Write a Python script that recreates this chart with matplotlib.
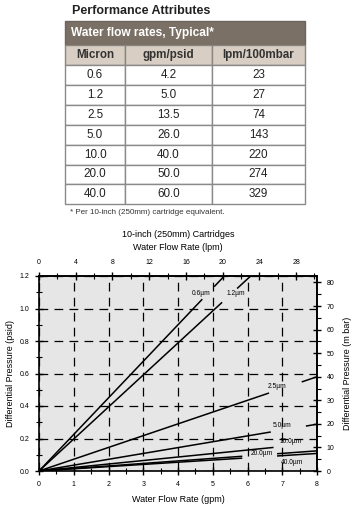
import matplotlib
matplotlib.use("Agg")
import matplotlib.pyplot as plt
from matplotlib.patches import Rectangle
from matplotlib.ticker import MultipleLocator, FixedLocator

plt.rcParams["font.family"] = ["Liberation Sans", "DejaVu Sans"]

# table data
col_heads = ["Micron", "gpm/psid", "lpm/100mbar"]
micron = ["0.6", "1.2", "2.5", "5.0", "10.0", "20.0", "40.0"]
gpm_psid = ["4.2", "5.0", "13.5", "26.0", "40.0", "50.0", "60.0"]
lpm_mbar = ["23", "27", "74", "143", "220", "274", "329"]

# curves: slope in psid per gpm
curve_labels = ["0.6µm", "1.2µm", "2.5µm", "5.0µm", "10.0µm", "20.0µm", "40.0µm"]
slopes = [0.225, 0.197, 0.0725, 0.036, 0.0215, 0.0155, 0.0135]
# drawn segments (gpm ranges), gaps are where the labels sit
segments = [
    [(0, 4.7), (5.04, 5.33)],
    [(0, 5.27), (5.7, 6.09)],
    [(0, 6.62), (7.56, 8.0)],
    [(0, 6.67), (7.68, 8.0)],
    [(0, 6.75)],
    [(0, 5.85), (6.85, 8.0)],
    [(0, 5.85), (6.85, 8.0)],
]
label_pos = [(4.67, 1.09), (5.67, 1.09), (6.85, 0.52), (7.0, 0.28),
             (7.25, 0.18), (6.42, 0.105), (7.28, 0.05)]

lpm_ticks = [0, 4, 8, 12, 16, 20, 24, 28]
lpm_minor = [2, 6, 10, 14, 18, 22, 26, 30]
mbar_ticks = [0, 10, 20, 30, 40, 50, 60, 70, 80]
mbar_minor = [5, 15, 25, 35, 45, 55, 65, 75]

W, H = 352, 505
fig = plt.figure(figsize=(W / 100, H / 100), dpi=100)

# ---- table (pixel coordinates) ----
tb = fig.add_axes([0, 0, 1, 1])
tb.set_xlim(0, W); tb.set_ylim(H, 0); tb.axis("off")
xe = [65, 125, 212, 305]
hdr_top, sub_top, data_top, rh = 21, 45, 65, 19.9
tb.text(72, 11, "Performance Attributes", fontsize=9, fontweight="bold",
        color="#222222", va="center")
tb.add_patch(Rectangle((xe[0], hdr_top), xe[3] - xe[0], sub_top - hdr_top,
                       fc="#7b7066", ec="#6e655c", lw=1))
tb.text(71, 33, "Water flow rates, Typical*", fontsize=8.6, fontweight="bold",
        color="white", va="center")
for i, h in enumerate(col_heads):
    tb.add_patch(Rectangle((xe[i], sub_top), xe[i + 1] - xe[i], data_top - sub_top,
                           fc="#d8cec3", ec="#8a8580", lw=1))
    tb.text((xe[i] + xe[i + 1]) / 2, (sub_top + data_top) / 2, h, fontsize=8.4,
            fontweight="bold", color="#333333", ha="center", va="center")
for r, row in enumerate(zip(micron, gpm_psid, lpm_mbar)):
    y0 = data_top + r * rh
    for i, v in enumerate(row):
        tb.add_patch(Rectangle((xe[i], y0), xe[i + 1] - xe[i], rh,
                               fc="white", ec="#8a8a8a", lw=1))
        tb.text((xe[i] + xe[i + 1]) / 2, y0 + rh / 2, v, fontsize=8.4,
                color="#222222", ha="center", va="center")
tb.text(70, 212, "* Per 10-inch (250mm) cartridge equivalent.", fontsize=5.8,
        color="#333333", va="center")

# ---- chart ----
ax = fig.add_axes([39 / W, (H - 471) / H, 278 / W, 195 / H])
ax.set_facecolor("#e6e6e6")
ax.set_xlim(0, 8); ax.set_ylim(0, 1.2)
for s, segs in zip(slopes, segments):
    for a, b in segs:
        ax.plot([a, b], [s * a, s * b], color="black", lw=1.1, solid_capstyle="butt")
for lab, (lx, ly) in zip(curve_labels, label_pos):
    ax.text(lx, ly, lab, fontsize=4.8, ha="center", va="center")

ax.xaxis.set_major_locator(MultipleLocator(1))
ax.xaxis.set_minor_locator(MultipleLocator(0.5))
ax.yaxis.set_major_locator(MultipleLocator(0.2))
ax.yaxis.set_minor_locator(MultipleLocator(0.1))
ax.grid(True, which="major", color="black", lw=0.9, ls=(0, (7, 5)))
ax.tick_params(which="major", direction="inout", length=6, width=1, labelsize=5, pad=4)
ax.tick_params(which="minor", direction="inout", length=4, width=0.8)
ax.set_yticks(ax.get_yticks())
ax.set_yticklabels([f"{v:.1f}" for v in ax.get_yticks()])
ax.set_ylim(0, 1.2)
for sp in ax.spines.values():
    sp.set_linewidth(1.2)
ax.set_xlabel("Water Flow Rate (gpm)", fontsize=6.5, labelpad=5)
ax.set_ylabel("Differential Pressure (psid)", fontsize=6.5, labelpad=3)

top = ax.secondary_xaxis("top", functions=(lambda g: g * 3.785, lambda l: l / 3.785))
top.xaxis.set_major_locator(FixedLocator(lpm_ticks))
top.xaxis.set_minor_locator(FixedLocator(lpm_minor))
top.tick_params(which="major", direction="inout", length=6, width=1, labelsize=5, pad=4)
top.tick_params(which="minor", direction="inout", length=4, width=0.8)
top.spines["top"].set_linewidth(1.2)
top.set_xlabel("10-inch (250mm) Cartridges\nWater Flow Rate (lpm)", fontsize=6.5,
               labelpad=7, linespacing=1.5)

right = ax.secondary_yaxis("right", functions=(lambda p: p * 68.95, lambda m: m / 68.95))
right.yaxis.set_major_locator(FixedLocator(mbar_ticks))
right.yaxis.set_minor_locator(FixedLocator(mbar_minor))
right.tick_params(which="major", direction="inout", length=6, width=1, labelsize=5, pad=4)
right.tick_params(which="minor", direction="out", length=3, width=0.8)
right.spines["right"].set_linewidth(1.2)
right.set_ylabel("Differential Pressure (m bar)", fontsize=6.5, labelpad=6)

fig.savefig("out.png", dpi=100)
